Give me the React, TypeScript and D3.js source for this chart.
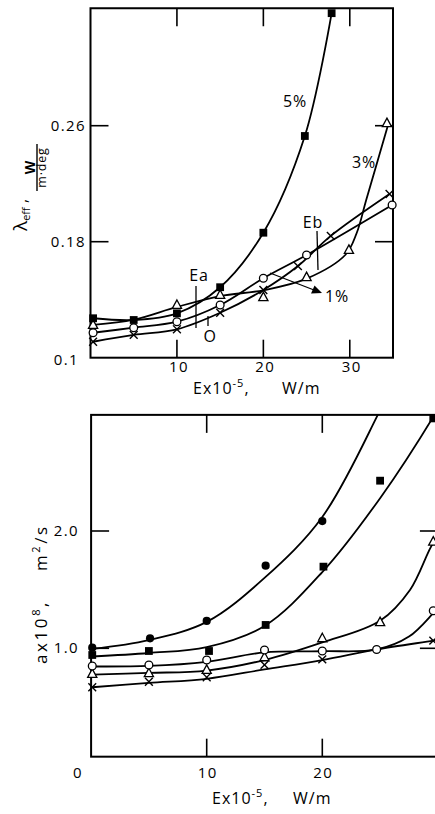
import React from "react";
import * as d3 from "d3";

const FONT = "'Open Sans', 'DejaVu Sans', sans-serif";

// ---------- top panel data (lambda_eff, W/(m·deg)) ----------
const topXDomain = [0, 35];
const topYDomain = [0.1, 0.341];
const topXTicks = [10, 20, 30];
const topYTicks = [0.18, 0.26];
const topYTickLabels = ["0.1", "0.18", "0.26"];

const top5X = [0.3, 5, 10, 15, 20, 24.8, 27.9];
const top5Y = [0.1272, 0.126, 0.1306, 0.1486, 0.1862, 0.2529, 0.3376];

const top3X = [0.3, 10, 15, 20, 25, 29.9, 34.3];
const top3Y = [0.1226, 0.1363, 0.1432, 0.1417, 0.1555, 0.1743, 0.2617];
const top3CurveX = [0.3, 5, 10, 15, 20, 25, 29.5, 30.8, 31.9, 34.4];
const top3CurveY = [0.1226, 0.1262, 0.135, 0.1425, 0.1465, 0.1545, 0.171, 0.186, 0.2087, 0.26];

const topCircX = [0.3, 5, 10, 15, 20, 25, 34.9];
const topCircY = [0.1172, 0.1207, 0.1248, 0.1363, 0.1548, 0.1708, 0.2053];

const topCrossX = [0.3, 5, 10, 15, 20, 24, 27.8, 34.6];
const topCrossY = [0.111, 0.1157, 0.1196, 0.131, 0.1467, 0.1632, 0.184, 0.2129];

// ---------- bottom panel data (a x 10^8, m²/s) ----------
const botXDomain = [0, 30];
const botYDomain = [0.076, 2.99];
const botXTicks = [10, 20];
const botXTickLabels = ["0", "10", "20"];
const botYTicks = [1.0, 2.0];
const botYTickLabels = ["1.0", "2.0"];

const botDotX = [0.1, 5.1, 10, 15.1, 20];
const botDotY = [1.005, 1.085, 1.233, 1.704, 2.085];
const botDotCurveX = [0.1, 5, 10, 15, 20, 24.8, 26];
const botDotCurveY = [0.995, 1.07, 1.225, 1.6, 2.12, 2.99, 3.24];

const botSqX = [0.1, 5, 10.2, 15.1, 20.1, 25, 29.6];
const botSqY = [0.943, 0.977, 0.977, 1.199, 1.696, 2.429, 2.96];
const botSqCurveX = [0.1, 5, 10, 15, 20, 25, 29.7, 30.5];
const botSqCurveY = [0.93, 0.96, 1.01, 1.19, 1.65, 2.28, 2.99, 3.13];

const botCircX = [0.1, 5, 10, 15, 20, 24.7, 29.6];
const botCircY = [0.849, 0.858, 0.9, 0.985, 0.977, 0.99, 1.32];
const botCircCurveX = [0.1, 5, 10, 15, 20, 24.7, 27.5, 29.6, 30.5];
const botCircCurveY = [0.845, 0.85, 0.885, 0.965, 0.975, 0.99, 1.1, 1.3, 1.4];

const botTriX = [0.1, 5, 10, 15, 20, 25, 29.6];
const botTriY = [0.781, 0.787, 0.815, 0.923, 1.085, 1.222, 1.909];
const botTriCurveX = [0.1, 5, 10, 15, 20, 25, 27.6, 29.6, 30.5];
const botTriCurveY = [0.775, 0.79, 0.81, 0.9, 1.05, 1.235, 1.5, 1.9, 2.0];

const botCrossX = [0.1, 5, 10, 15, 20, 29.6];
const botCrossY = [0.668, 0.715, 0.753, 0.858, 0.906, 1.065];
const botCrossCurveX = [0.1, 5, 10, 15, 20, 24.7, 29.6, 30.5];
const botCrossCurveY = [0.668, 0.705, 0.74, 0.82, 0.9, 0.99, 1.065, 1.08];

type Kind = "sq" | "dot" | "circ" | "tri" | "cross";

function zip(xs: number[], ys: number[]): [number, number][] {
  return xs.map((x, i) => [x, ys[i]]);
}

function Marker({ kind, cx, cy }: { kind: Kind; cx: number; cy: number }) {
  const s = 3.9;
  if (kind === "sq")
    return <rect x={cx - s} y={cy - s} width={2 * s} height={2 * s} fill="#000" />;
  if (kind === "dot") return <circle cx={cx} cy={cy} r={s + 0.2} fill="#000" />;
  if (kind === "circ")
    return <circle cx={cx} cy={cy} r={s} fill="#fff" stroke="#000" strokeWidth={1.3} />;
  if (kind === "tri") {
    const h = 8.5;
    return (
      <path
        d={`M${cx},${cy - h * 0.6} L${cx + 4.6},${cy + h * 0.4} L${cx - 4.6},${cy + h * 0.4} Z`}
        fill="#fff"
        stroke="#000"
        strokeWidth={1.3}
      />
    );
  }
  return (
    <g stroke="#000" strokeWidth={1.4}>
      <line x1={cx - s} y1={cy - s} x2={cx + s} y2={cy + s} />
      <line x1={cx - s} y1={cy + s} x2={cx + s} y2={cy - s} />
    </g>
  );
}

export default function App() {
  // top scales
  const xt = d3.scaleLinear().domain(topXDomain).range([90.5, 393]);
  const yt = d3.scaleLinear().domain([0.1, 0.26]).range([357.7, 125.7]);
  const tL = xt(topXDomain[0]);
  const tR = xt(topXDomain[1]);
  const tB = yt(topYDomain[0]);
  const tT = yt(topYDomain[1]);

  // bottom scales
  const xb = d3.scaleLinear().domain([0, 10]).range([91.1, 206.7]);
  const yb = d3.scaleLinear().domain([1.0, 2.0]).range([648.3, 531]);
  const bL = xb(botXDomain[0]);
  const bR = xb(botXDomain[1]);
  const bB = yb(botYDomain[0]);
  const bT = yb(botYDomain[1]);

  const curve = d3.curveCatmullRom.alpha(0.5);
  const lineT = d3
    .line<[number, number]>()
    .x((d) => xt(d[0]))
    .y((d) => yt(d[1]))
    .curve(curve);
  const lineB = d3
    .line<[number, number]>()
    .x((d) => xb(d[0]))
    .y((d) => yb(d[1]))
    .curve(curve);

  const topCurves: [number, number][][] = [
    zip(top5X, top5Y),
    zip(top3CurveX, top3CurveY),
    zip(topCircX, topCircY),
    zip(topCrossX, topCrossY),
  ];
  const topMarks: { kind: Kind; pts: [number, number][] }[] = [
    { kind: "cross", pts: zip(topCrossX, topCrossY) },
    { kind: "circ", pts: zip(topCircX, topCircY) },
    { kind: "tri", pts: zip(top3X, top3Y) },
    { kind: "sq", pts: zip(top5X, top5Y) },
  ];

  const botCurves: [number, number][][] = [
    zip(botDotCurveX, botDotCurveY),
    zip(botSqCurveX, botSqCurveY),
    zip(botCircCurveX, botCircCurveY),
    zip(botTriCurveX, botTriCurveY),
    zip(botCrossCurveX, botCrossCurveY),
  ];
  const botMarks: { kind: Kind; pts: [number, number][] }[] = [
    { kind: "cross", pts: zip(botCrossX, botCrossY) },
    { kind: "tri", pts: zip(botTriX, botTriY) },
    { kind: "circ", pts: zip(botCircX, botCircY) },
    { kind: "sq", pts: zip(botSqX, botSqY) },
    { kind: "dot", pts: zip(botDotX, botDotY) },
  ];

  const tick = 18;
  const txt = { fontFamily: FONT, fill: "#000" } as const;

  return (
    <svg
      width={435}
      height={814}
      style={{ position: "absolute", left: 0, top: 0, background: "#fff" }}
    >
      <defs>
        <clipPath id="clipTop">
          <rect x={tL} y={tT} width={tR - tL} height={tB - tT} />
        </clipPath>
        <clipPath id="clipBot">
          <rect x={bL} y={bT} width={bR - bL} height={bB - bT} />
        </clipPath>
      </defs>
      <rect x={0} y={0} width={435} height={814} fill="#fff" />

      {/* ================= TOP PANEL ================= */}
      <rect x={tL} y={tT} width={tR - tL} height={tB - tT} fill="none" stroke="#000" strokeWidth={2} />
      <g stroke="#000" strokeWidth={1.6}>
        {topXTicks.map((v) => (
          <g key={"tx" + v}>
            <line x1={xt(v)} x2={xt(v)} y1={tB} y2={tB - tick} />
            <line x1={xt(v)} x2={xt(v)} y1={tT} y2={tT + tick} />
          </g>
        ))}
        {topYTicks.map((v) => (
          <g key={"ty" + v}>
            <line x1={tL} x2={tL + tick} y1={yt(v)} y2={yt(v)} />
            <line x1={tR} x2={tR - tick} y1={yt(v)} y2={yt(v)} />
          </g>
        ))}
      </g>
      <g clipPath="url(#clipTop)" fill="none" stroke="#000" strokeWidth={1.8}>
        {topCurves.map((c, i) => (
          <path key={"tc" + i} d={lineT(c) || ""} />
        ))}
      </g>
      {topMarks.map((m) =>
        m.pts.map((p, i) => <Marker key={m.kind + "t" + i} kind={m.kind} cx={xt(p[0])} cy={yt(p[1])} />)
      )}
      {/* tick labels */}
      <g {...txt} fontSize={15} letterSpacing={1.4}>
        <text x={79} y={365} textAnchor="end">{topYTickLabels[0]}</text>
        <text x={86} y={yt(0.18) + 5} textAnchor="end">{topYTickLabels[1]}</text>
        <text x={86} y={yt(0.26) + 5} textAnchor="end">{topYTickLabels[2]}</text>
        {topXTicks.map((v) => (
          <text key={"tl" + v} x={xt(v) + 2} y={372} textAnchor="middle">{v}</text>
        ))}
      </g>
      {/* x title */}
      <g {...txt} fontSize={16} letterSpacing={1}>
        <text x={193} y={394}>
          Ex10<tspan fontSize={11} dy={-7}>-5</tspan><tspan dy={7}>,</tspan>
        </text>
        <text x={282} y={394}>W/m</text>
      </g>
      {/* y title */}
      <g transform="rotate(-90)" {...txt}>
        <text x={-231} y={27} fontSize={19}>
          λ<tspan fontSize={11} dy={3}>eff</tspan><tspan fontSize={16} dy={-3}> ,</tspan>
        </text>
        <text x={-167.5} y={35} fontSize={14} fontWeight={700} textAnchor="middle">W</text>
        <line x1={-191} x2={-144} y1={37} y2={37} stroke="#000" strokeWidth={1.4} />
        <text x={-167.5} y={46} fontSize={12.5} letterSpacing={0.8} textAnchor="middle">m·deg</text>
      </g>
      {/* annotations */}
      <g {...txt} fontSize={16} letterSpacing={0.8}>
        <text x={295} y={107} textAnchor="middle">5%</text>
        <text x={364} y={168} textAnchor="middle">3%</text>
        <text x={313} y={228} textAnchor="middle">Eb</text>
        <text x={199} y={281} textAnchor="middle">Ea</text>
        <text x={210} y={342} textAnchor="middle">O</text>
        <text x={325} y={302}>1%</text>
      </g>
      <g stroke="#000" strokeWidth={1.3}>
        <line x1={317} y1={231} x2={318} y2={270} />
        <line x1={196} y1={286} x2={196} y2={328} />
        <line x1={208} y1={316} x2={208} y2={326} />
        <line x1={270} y1={273} x2={314} y2={290} />
      </g>
      <path d="M322,293 L311,293.5 L314.5,285.5 Z" fill="#000" />

      {/* ================= BOTTOM PANEL ================= */}
      <rect x={bL} y={bT} width={bR - bL} height={bB - bT} fill="none" stroke="#000" strokeWidth={2} />
      <g stroke="#000" strokeWidth={1.6}>
        {botXTicks.map((v) => (
          <g key={"bx" + v}>
            <line x1={xb(v)} x2={xb(v)} y1={bB} y2={bB - tick} />
            <line x1={xb(v)} x2={xb(v)} y1={bT} y2={bT + tick} />
          </g>
        ))}
        {botYTicks.map((v) => (
          <g key={"by" + v}>
            <line x1={bL} x2={bL + tick} y1={yb(v)} y2={yb(v)} />
            <line x1={bR} x2={bR - tick} y1={yb(v)} y2={yb(v)} />
          </g>
        ))}
      </g>
      <g clipPath="url(#clipBot)" fill="none" stroke="#000" strokeWidth={1.8}>
        {botCurves.map((c, i) => (
          <path key={"bc" + i} d={lineB(c) || ""} />
        ))}
      </g>
      {botMarks.map((m) =>
        m.pts.map((p, i) => <Marker key={m.kind + "b" + i} kind={m.kind} cx={xb(p[0])} cy={yb(p[1])} />)
      )}
      <g {...txt} fontSize={15} letterSpacing={1.4}>
        {botYTicks.map((v, i) => (
          <text key={"byl" + v} x={79} y={yb(v) + 5} textAnchor="end">{botYTickLabels[i]}</text>
        ))}
        <text x={xb(0) - 13} y={778} textAnchor="middle">{botXTickLabels[0]}</text>
        {botXTicks.map((v, i) => (
          <text key={"bxl" + v} x={xb(v) + 1} y={778} textAnchor="middle">{botXTickLabels[i + 1]}</text>
        ))}
      </g>
      <g {...txt} fontSize={16} letterSpacing={1}>
        <text x={212} y={804}>
          Ex10<tspan fontSize={11} dy={-7}>-5</tspan><tspan dy={7}>,</tspan>
        </text>
        <text x={293} y={804}>W/m</text>
      </g>
      <g transform="rotate(-90)" {...txt} fontSize={17} letterSpacing={2.6}>
        <text x={-664} y={47}>
          ax10<tspan fontSize={11} dy={-7}>8</tspan><tspan dy={7}>,</tspan>
        </text>
        <text x={-571} y={47}>
          m<tspan fontSize={11} dy={-7}>2</tspan><tspan dy={7}>/s</tspan>
        </text>
      </g>
    </svg>
  );
}
